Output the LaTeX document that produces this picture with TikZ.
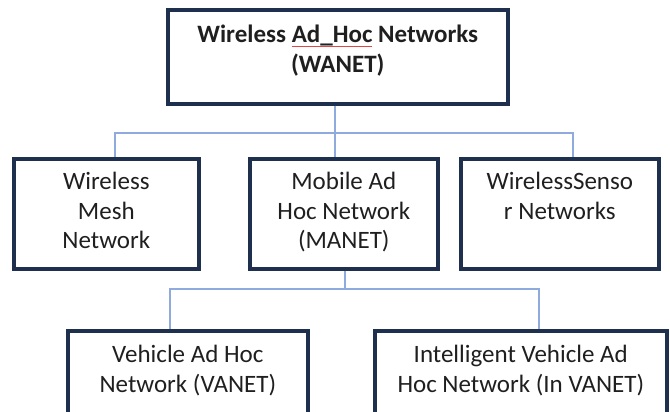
\documentclass[tikz,border=0pt]{standalone}
\usepackage{fontspec}
\setmainfont{Carlito}
\definecolor{spellred}{RGB}{225,70,70}
\definecolor{boxedge}{RGB}{30,48,78}
\definecolor{linkblue}{RGB}{143,170,220}
% red spell-check mark under a word
\newcommand\spellmark[1]{\setbox0\hbox{#1}\rlap{\color{spellred}\raisebox{-4pt}{\rule{\wd0}{0.8pt}}}\box0\relax}
\tikzset{
  box/.style={draw=boxedge, line width=3.6pt, anchor=north west, inner sep=0pt},
  boxtext/.style={anchor=north, align=center, font=\fontsize{25}{29.5}\selectfont, text=black!88, inner sep=0pt},
  link/.style={draw=linkblue, line width=1.8pt}
}
\begin{document}
\begin{tikzpicture}[x=1pt,y=-1pt]
  \useasboundingbox (0,0) rectangle (670,412);
  \clip (0,0) rectangle (670,412);
  % boxes
  \node[box, minimum width=340pt, minimum height=94pt] (wanet) at (166,8) {};
  \node[box, minimum width=185pt, minimum height=110pt] (wmn) at (12,157) {};
  \node[box, minimum width=188pt, minimum height=110pt] (manet) at (248,157) {};
  \node[box, minimum width=198pt, minimum height=110pt] (wsn) at (459,157) {};
  \node[box, minimum width=240pt, minimum height=110pt] (vanet) at (66,329) {};
  \node[box, minimum width=292pt, minimum height=110pt] (invanet) at (373,329) {};
  % labels
  \node[boxtext, font=\bfseries\fontsize{25}{30}\selectfont] (t-wanet) at ([yshift=-17pt]wanet.north)
    {Wireless \spellmark{Ad\_Hoc} Networks\\(WANET)};
  \node[boxtext] (t-wmn) at ([yshift=-15pt]wmn.north) {Wireless\\Mesh\\Network};
  \node[boxtext] (t-manet) at ([yshift=-15pt]manet.north) {Mobile Ad\\Hoc Network\\(MANET)};
  \node[boxtext] (t-wsn) at ([yshift=-15pt]wsn.north) {WirelessSenso\\r Networks};
  \node[boxtext] (t-vanet) at ([yshift=-16pt]vanet.north) {Vehicle Ad Hoc\\Network (VANET)};
  \node[boxtext] (t-invanet) at ([yshift=-16pt]invanet.north) {Intelligent Vehicle Ad\\Hoc Network (In VANET)};
  % connectors
  \coordinate (hub1) at ([xshift=-3pt,yshift=-27pt]wanet.south);
  \coordinate (hub2) at ([xshift=1pt,yshift=-18pt]manet.south);
  \draw[link] ([xshift=-3pt]wanet.south) -- (hub1);
  \draw[link] (hub1) -| ([xshift=8.5pt]wmn.north);
  \draw[link] (hub1) -| ([xshift=13pt]wsn.north);
  \draw[link] (hub1) -- (hub1 |- manet.north);
  \draw[link] ([xshift=1pt]manet.south) -- (hub2);
  \draw[link] (hub2) -| ([xshift=-18pt]vanet.north);
  \draw[link] (hub2) -| ([xshift=18pt]invanet.north);
\end{tikzpicture}
\end{document}
